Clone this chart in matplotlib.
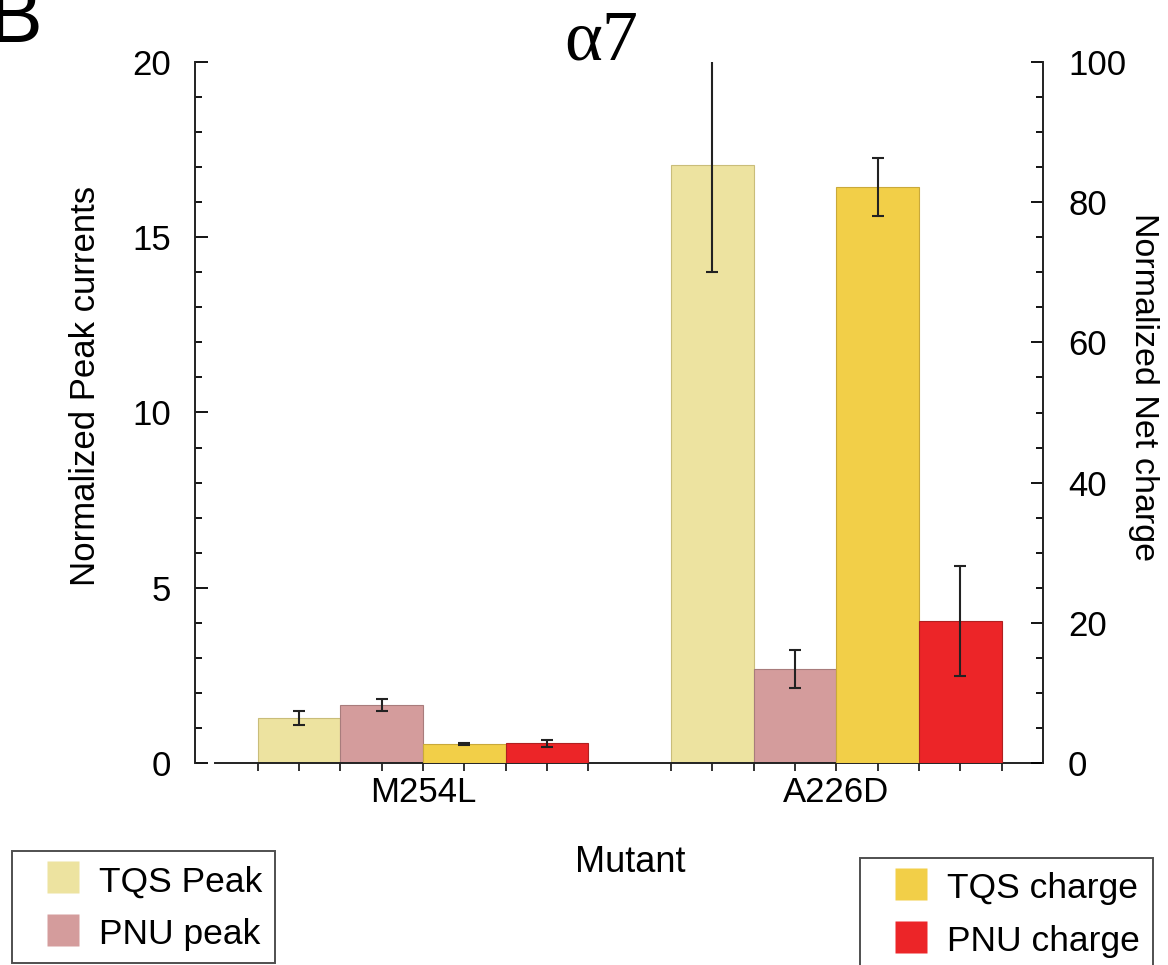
import matplotlib
matplotlib.use('Agg')
import matplotlib.pyplot as plt
from matplotlib.lines import Line2D
import numpy as np

plt.rcParams['font.family'] = ['Liberation Sans', 'DejaVu Sans']

# data
mutants = ['M254L', 'A226D']
tqs_peak = [1.28, 17.05]
tqs_peak_err = [0.20, 3.05]
pnu_peak = [1.65, 2.68]
pnu_peak_err = [0.18, 0.55]
tqs_charge = [2.7, 82.2]
tqs_charge_err = [0.15, 4.1]
pnu_charge = [2.85, 20.3]
pnu_charge_err = [0.5, 7.85]

col_tqs_peak = '#ede3a0'
col_pnu_peak = '#d49c9c'
col_tqs_charge = '#f2cf48'
col_pnu_charge = '#ec2528'

W, H = 1168, 965
fig = plt.figure(figsize=(W / 100, H / 100), dpi=100)
ax = fig.add_axes([195 / W, 1 - 763 / H, (1043 - 195) / W, (763 - 62) / H])
ax2 = ax.twinx()

centers = np.array([0, 5])
err_kw = dict(ecolor='#222222', elinewidth=1.5, capsize=4, capthick=1.5)
ax.bar(centers - 1.5, tqs_peak, 1, yerr=tqs_peak_err, color=col_tqs_peak,
       edgecolor='#c9bd7a', linewidth=0.8, error_kw=err_kw)
ax.bar(centers - 0.5, pnu_peak, 1, yerr=pnu_peak_err, color=col_pnu_peak,
       edgecolor='#a87c7c', linewidth=0.8, error_kw=err_kw)
ax2.bar(centers + 0.5, tqs_charge, 1, yerr=tqs_charge_err, color=col_tqs_charge,
        edgecolor='#c9a93a', linewidth=0.8, error_kw=err_kw)
ax2.bar(centers + 1.5, pnu_charge, 1, yerr=pnu_charge_err, color=col_pnu_charge,
        edgecolor='#b02020', linewidth=0.8, error_kw=err_kw)

ax.set_xlim(-2.76, 7.5)
ax.set_ylim(0, 20)
ax2.set_ylim(0, 100)

# spines
for s in ['top', 'right']:
    ax.spines[s].set_visible(False)
for s in ['top', 'left', 'bottom']:
    ax2.spines[s].set_visible(False)
ax.spines['bottom'].set_bounds(-2.52, 7.5)
for a in (ax, ax2):
    for s in a.spines.values():
        s.set_linewidth(1.4)
        s.set_color('#222222')

# x ticks
ax.set_xticks(centers)
ax.set_xticklabels(mutants)
minor_x = [c + d for c in centers for d in np.arange(-2, 2.01, 0.5) if d != 0]
ax.set_xticks(minor_x, minor=True)
ax.tick_params(axis='x', which='both', direction='out', length=6, width=1.3,
               labelsize=25, pad=3, colors='#222222', labelcolor='black')

# y ticks
ax.set_yticks(np.arange(0, 21, 5))
ax.set_yticks(np.arange(0, 21, 1), minor=True)
ax.tick_params(axis='y', which='major', direction='in', length=9, width=1.3,
               labelsize=25, pad=17)
ax.tick_params(axis='y', which='minor', direction='in', length=5, width=1.3)
ax2.set_yticks(np.arange(0, 101, 20))
ax2.set_yticks(np.arange(0, 101, 5), minor=True)
ax2.tick_params(axis='y', which='major', direction='in', length=9, width=1.3,
                labelsize=25, pad=18)
ax2.tick_params(axis='y', which='minor', direction='in', length=5, width=1.3)

# labels
fig.text(86 / W, 1 - 386 / H, 'Normalized Peak currents', rotation=90,
         ha='center', va='center', fontsize=25)
fig.text(1144 / W, 1 - 387 / H, 'Normalized Net charge', rotation=-90,
         ha='center', va='center', fontsize=24.5)
fig.text(630 / W, 1 - 862 / H, 'Mutant', ha='center', va='center', fontsize=26)
fig.text(601 / W, 1 - 60 / H, '\u03b17', ha='center', va='baseline',
         fontsize=52, family=['Liberation Serif', 'DejaVu Serif'])
fig.text(-12 / W, 1 - 42 / H, 'B', ha='left', va='baseline', fontsize=58)


def square(color, label):
    return Line2D([], [], marker='s', markersize=23, linestyle='none',
                  markerfacecolor=color, markeredgecolor='none', label=label)


# legends
leg_kw = dict(fontsize=25.5, frameon=True, fancybox=False, edgecolor='#222222',
              handlelength=2.2, handleheight=1.0, handletextpad=-0.08,
              labelspacing=0.5, borderpad=0.35, borderaxespad=0)
leg1 = fig.legend(handles=[square(col_tqs_peak, 'TQS Peak'),
                           square(col_pnu_peak, 'PNU peak')],
                  loc='upper left', bbox_to_anchor=(12 / W, 1 - 851 / H), **leg_kw)
leg1.get_frame().set_linewidth(1.4)
leg2 = fig.legend(handles=[square(col_tqs_charge, 'TQS charge'),
                           square(col_pnu_charge, 'PNU charge')],
                  loc='upper left', bbox_to_anchor=(860 / W, 1 - 858 / H), **leg_kw)
leg2.get_frame().set_linewidth(1.4)

fig.savefig('out.png', dpi=100)
